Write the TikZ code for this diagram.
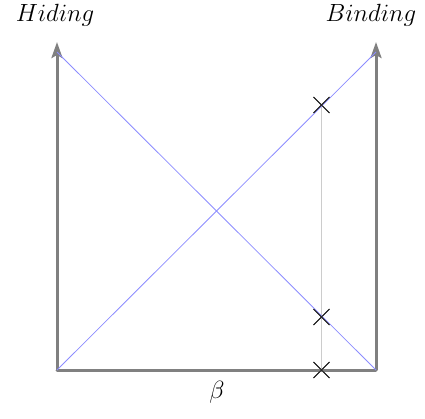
\documentclass[tikz,border=0pt]{standalone}
\usepackage{fontspec}
\usetikzlibrary{arrows.meta,shapes.misc}
\newcommand{\lbltxt}{\fontsize{26pt}{30pt}\selectfont}
\begin{document}
\begin{tikzpicture}[x=1pt,y=-1pt,
  axis/.style={draw=black!50,line width=3pt},
  diag/.style={draw=blue!45,line width=0.8pt},
  guide/.style={draw=black!20,line width=1.2pt},
  xmark/.style={cross out,draw=black!85,line width=0.9pt,minimum size=15pt,inner sep=0pt},
  lbl/.style={inner sep=0pt}]
\useasboundingbox (0,0) rectangle (425,418);
\coordinate (O) at (57,370);
\coordinate (R) at (376,370);
\coordinate (LT) at (57,52);
\coordinate (RT) at (376,52);
\coordinate (LA) at (57,42);
\coordinate (RA) at (376,42);
\node[xmark] (c1) at (321.5,105) {};
\node[xmark] (c2) at (321.5,317) {};
\node[xmark] (c3) at (321.5,370) {};
\draw[guide] (c1.center) -- (c3.center);
\draw[axis,-{Stealth[length=16pt,width=11pt,inset=3pt]}] (O) -- (LA);
\draw[axis,-{Stealth[length=16pt,width=11pt,inset=3pt]}] (R) -- (RA);
\draw[axis,line cap=round] (O) -- (R);
\draw[diag] (LT) -- (R);
\draw[diag] (O) -- (RT);
\node[xmark] at (c1) {};
\node[xmark] at (c2) {};
\node[xmark] at (c3) {};
\node[lbl,anchor=base] (hiding) at (55,21) {\lbltxt$Hiding$};
\node[lbl,anchor=base] (binding) at (371,21) {\lbltxt$Binding$};
\node[lbl,anchor=base] (beta) at (217,398) {\lbltxt$\beta$};
\end{tikzpicture}
\end{document}
